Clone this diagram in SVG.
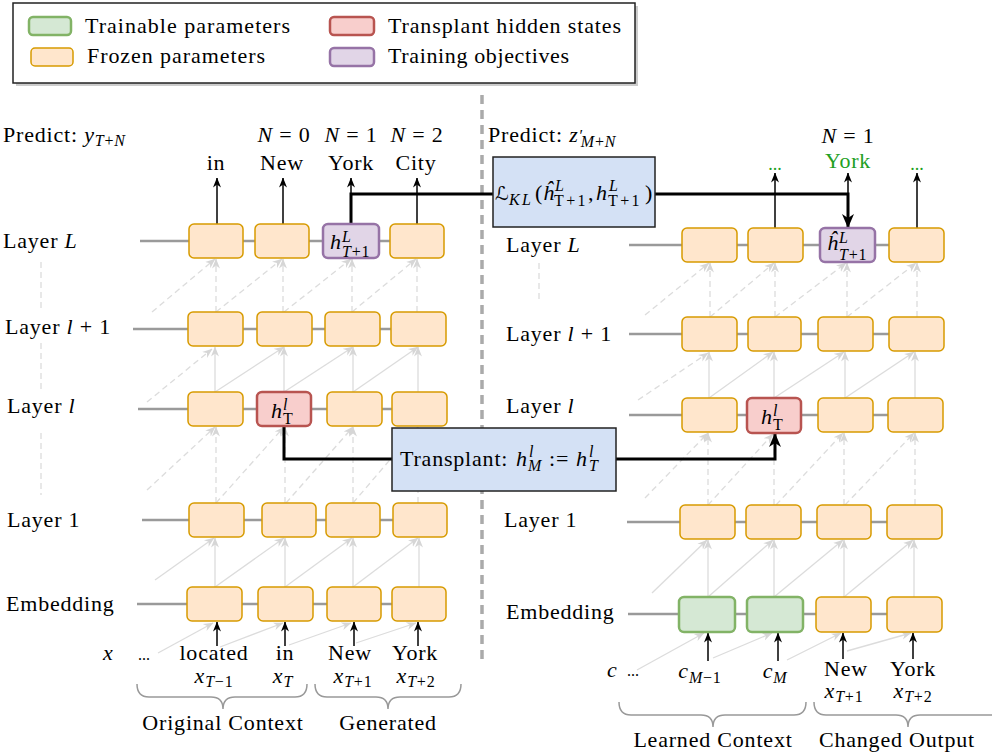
<svg xmlns="http://www.w3.org/2000/svg" width="992" height="754" viewBox="0 0 992 754">
<defs>
<style>
.t{font-family:"Liberation Serif","DejaVu Serif",serif;font-size:22px;letter-spacing:.8px;fill:#000}
.lg{font-family:"Liberation Serif","DejaVu Serif",serif;font-size:22px;fill:#000}
.i{font-style:italic}
.s{font-size:16px}
.w{letter-spacing:2.4px}
.g{fill:#22a022}
.box{fill:#ffe6cc;stroke:#d79b00;stroke-width:1.5}
.grn{fill:#d5e8d4;stroke:#82b366;stroke-width:2.5}
.red{fill:#f8cecc;stroke:#b85450;stroke-width:2.5}
.pur{fill:#e1d5e7;stroke:#9673a6;stroke-width:2.5}
.blue{fill:#d4e1f5;stroke:#222;stroke-width:1.5}
.row{stroke:#9a9a9a;stroke-width:2.5;fill:none}
.att{stroke:#dcdcdc;stroke-width:1.3;fill:none;marker-end:url(#al)}
.attd{stroke:#dcdcdc;stroke-width:1.3;fill:none;stroke-dasharray:6 4;marker-end:url(#al)}
.vd{stroke:#dcdcdc;stroke-width:1.3;fill:none;stroke-dasharray:6 4}
.arr{stroke:#000;stroke-width:1.5;fill:none;marker-end:url(#ab)}
.thk{stroke:#000;stroke-width:3;fill:none}
.brace{stroke:#999;stroke-width:1.5;fill:none}
</style>
<marker id="ab" viewBox="0 0 10 10" markerWidth="10" markerHeight="10" refX="9.5" refY="5" orient="auto" markerUnits="userSpaceOnUse"><path d="M0,1 L10,5 L0,9 L3,5 z" fill="#000"/></marker>
<marker id="abig" viewBox="0 0 14 14" markerWidth="14" markerHeight="14" refX="13" refY="7" orient="auto" markerUnits="userSpaceOnUse"><path d="M0,1 L14,7 L0,13 L4,7 z" fill="#000"/></marker>
<marker id="al" viewBox="0 0 10 10" markerWidth="10" markerHeight="10" refX="9.5" refY="5" orient="auto" markerUnits="userSpaceOnUse"><path d="M0,1 L10,5 L0,9 L3,5 z" fill="#d6d6d6"/></marker>
</defs>
<rect width="992" height="754" fill="#fff"/>

<g id="legend">
<rect x="16" y="6" width="622" height="80" fill="#9a9a9a" opacity="0.5"/>
<rect x="13" y="3" width="622" height="80" fill="#fff" stroke="#222" stroke-width="1.5"/>
<rect x="29" y="17" width="42" height="18" rx="4" class="grn"/>
<text class="lg" x="85" y="33" textLength="205" lengthAdjust="spacing">Trainable parameters</text>
<rect x="31" y="48" width="42" height="18" rx="4" class="box"/>
<text class="lg" x="87" y="63" textLength="178" lengthAdjust="spacing">Frozen parameters</text>
<rect x="330" y="17" width="44" height="18" rx="4" class="red"/>
<text class="lg" x="388" y="33" textLength="233" lengthAdjust="spacing">Transplant hidden states</text>
<rect x="330" y="48" width="44" height="18" rx="4" class="pur"/>
<text class="lg" x="388" y="63" textLength="181" lengthAdjust="spacing">Training objectives</text>
</g>

<g id="separator">
<line x1="482" y1="95" x2="482" y2="662" stroke="#aaa" stroke-width="3.5" stroke-dasharray="9 6"/>
</g>

<g id="connectors">
<line class="row" x1="140" y1="241" x2="444" y2="241"/>
<line class="row" x1="133" y1="329" x2="446" y2="329"/>
<line class="row" x1="138" y1="409" x2="447" y2="409"/>
<line class="row" x1="142" y1="520" x2="447" y2="520"/>
<line class="row" x1="137" y1="604" x2="446" y2="604"/>
<line class="row" x1="629" y1="245" x2="944" y2="245"/>
<line class="row" x1="629" y1="334" x2="944" y2="334"/>
<line class="row" x1="629" y1="415" x2="943" y2="415"/>
<line class="row" x1="627" y1="522" x2="942" y2="522"/>
<line class="row" x1="628" y1="614" x2="942" y2="614"/>

<line class="vd" x1="41" y1="262" x2="41" y2="310"/>
<line class="vd" x1="41" y1="343" x2="41" y2="390"/>
<line class="vd" x1="41" y1="433" x2="41" y2="495"/>
<line class="vd" x1="539" y1="263" x2="539" y2="302"/>

<line class="att" x1="158" y1="653" x2="213" y2="623"/>
<line class="att" x1="220" y1="647" x2="283" y2="623"/>
<line class="att" x1="289" y1="645" x2="351" y2="623"/>
<line class="att" x1="356" y1="643" x2="416" y2="623"/>
<line class="att" x1="215" y1="587" x2="215" y2="538"/>
<line class="att" x1="285" y1="587" x2="285" y2="538"/>
<line class="att" x1="353" y1="587" x2="353" y2="538"/>
<line class="att" x1="419" y1="587" x2="419" y2="538"/>
<line class="att" x1="155" y1="580" x2="214" y2="538"/>
<line class="att" x1="215" y1="587" x2="284" y2="538"/>
<line class="att" x1="285" y1="587" x2="352" y2="538"/>
<line class="att" x1="353" y1="587" x2="418" y2="538"/>
<line class="attd" x1="216" y1="503" x2="216" y2="427"/>
<line class="attd" x1="285" y1="503" x2="285" y2="427"/>
<line class="attd" x1="353" y1="503" x2="353" y2="427"/>
<line class="attd" x1="418" y1="503" x2="418" y2="427"/>
<line class="attd" x1="147" y1="490" x2="215" y2="427"/>
<line class="attd" x1="216" y1="503" x2="284" y2="427"/>
<line class="attd" x1="286" y1="503" x2="353" y2="427"/>
<line class="attd" x1="353" y1="503" x2="418" y2="427"/>
<line class="att" x1="215" y1="392" x2="215" y2="347"/>
<line class="att" x1="284" y1="392" x2="284" y2="347"/>
<line class="att" x1="353" y1="392" x2="353" y2="347"/>
<line class="att" x1="418" y1="392" x2="418" y2="347"/>
<line class="attd" x1="147" y1="402" x2="212" y2="349"/>
<line class="att" x1="215" y1="392" x2="284" y2="347"/>
<line class="att" x1="284" y1="392" x2="353" y2="347"/>
<line class="att" x1="353" y1="392" x2="418" y2="347"/>
<line class="attd" x1="216" y1="312" x2="216" y2="259"/>
<line class="attd" x1="283" y1="312" x2="283" y2="259"/>
<line class="attd" x1="352" y1="312" x2="352" y2="259"/>
<line class="attd" x1="417" y1="312" x2="417" y2="259"/>
<line class="attd" x1="152" y1="312" x2="215" y2="259"/>
<line class="attd" x1="216" y1="312" x2="282" y2="259"/>
<line class="attd" x1="284" y1="312" x2="351" y2="259"/>
<line class="attd" x1="352" y1="312" x2="416" y2="259"/>

<line class="att" x1="637" y1="670" x2="704" y2="633"/>
<line class="att" x1="713" y1="658" x2="772" y2="633"/>
<line class="att" x1="787" y1="660" x2="841" y2="633"/>
<line class="att" x1="847" y1="651" x2="911" y2="633"/>
<line class="att" x1="708" y1="597" x2="708" y2="540"/>
<line class="att" x1="774" y1="597" x2="774" y2="540"/>
<line class="att" x1="844" y1="597" x2="844" y2="540"/>
<line class="att" x1="914" y1="597" x2="914" y2="540"/>
<line class="att" x1="652" y1="593" x2="707" y2="540"/>
<line class="att" x1="708" y1="597" x2="773" y2="540"/>
<line class="att" x1="774" y1="597" x2="843" y2="540"/>
<line class="att" x1="844" y1="597" x2="913" y2="540"/>
<line class="attd" x1="708" y1="505" x2="708" y2="433"/>
<line class="attd" x1="774" y1="505" x2="774" y2="434"/>
<line class="attd" x1="844" y1="505" x2="844" y2="433"/>
<line class="attd" x1="915" y1="505" x2="915" y2="433"/>
<line class="attd" x1="645" y1="498" x2="708" y2="433"/>
<line class="attd" x1="708" y1="505" x2="773" y2="434"/>
<line class="attd" x1="776" y1="505" x2="843" y2="433"/>
<line class="attd" x1="845" y1="505" x2="914" y2="433"/>
<line class="att" x1="709" y1="398" x2="709" y2="352"/>
<line class="att" x1="774" y1="398" x2="774" y2="352"/>
<line class="att" x1="845" y1="398" x2="845" y2="352"/>
<line class="att" x1="915" y1="398" x2="915" y2="352"/>
<line class="attd" x1="638" y1="400" x2="708" y2="353"/>
<line class="att" x1="709" y1="398" x2="773" y2="352"/>
<line class="att" x1="774" y1="398" x2="844" y2="352"/>
<line class="att" x1="845" y1="398" x2="914" y2="352"/>
<line class="attd" x1="710" y1="317" x2="710" y2="263"/>
<line class="attd" x1="775" y1="317" x2="775" y2="263"/>
<line class="attd" x1="847" y1="317" x2="847" y2="263"/>
<line class="attd" x1="917" y1="317" x2="917" y2="263"/>
<line class="attd" x1="645" y1="315" x2="709" y2="263"/>
<line class="attd" x1="710" y1="317" x2="774" y2="263"/>
<line class="attd" x1="775" y1="317" x2="846" y2="263"/>
<line class="attd" x1="847" y1="317" x2="916" y2="263"/>

<line class="arr" x1="217" y1="224" x2="217" y2="178"/>
<line class="arr" x1="283" y1="224" x2="283" y2="178"/>
<line class="arr" x1="351" y1="224" x2="351" y2="178"/>
<line class="arr" x1="417" y1="224" x2="417" y2="178"/>
<line class="arr" x1="775" y1="228" x2="775" y2="173"/>
<line class="arr" x1="848" y1="194" x2="848" y2="173"/>
<line class="arr" x1="917" y1="228" x2="917" y2="173"/>
<line class="arr" x1="217" y1="646" x2="217" y2="622"/>
<line class="arr" x1="285" y1="646" x2="285" y2="622"/>
<line class="arr" x1="354" y1="646" x2="354" y2="622"/>
<line class="arr" x1="418" y1="646" x2="418" y2="622"/>
<line class="arr" x1="708" y1="661" x2="708" y2="633"/>
<line class="arr" x1="778" y1="661" x2="778" y2="633"/>
<line class="arr" x1="843" y1="659" x2="843" y2="633"/>
<line class="arr" x1="913" y1="659" x2="913" y2="633"/>

<path class="thk" d="M351,224 V194 H493"/>
<path class="thk" d="M655,194 H848 V227" marker-end="url(#abig)"/>
<path class="thk" d="M284,426 V459 H392"/>
<path class="thk" d="M616,459 H775 V434" marker-end="url(#abig)"/>

<path class="brace" d="M137,684 Q137,697 149,697 H211 Q223,697 223,709 Q223,697 235,697 H295 Q307,697 307,684"/>
<path class="brace" d="M315,684 Q315,697 327,697 H376 Q388,697 388,709 Q388,697 400,697 H449 Q461,697 461,684"/>
<path class="brace" d="M619,702 Q619,715 631,715 H701 Q713,715 713,727 Q713,715 725,715 H794 Q806,715 806,702"/>
<path class="brace" d="M814,702 Q814,715 826,715 H896 Q908,715 908,727 Q908,715 920,715 H990 Q1002,715 1002,702"/>
</g>

<g id="L-layerL">
<rect class="box" x="189" y="224" width="54" height="34" rx="5"/>
<rect class="box" x="255" y="224" width="54" height="34" rx="5"/>
<rect class="pur" x="323" y="224" width="56" height="34" rx="5"/>
<rect class="box" x="390" y="224" width="54" height="34" rx="5"/>
<text class="t"><tspan class="i" x="330" y="249">h</tspan><tspan class="s i" x="342" y="242">L</tspan><tspan class="s i" x="342" y="257">T</tspan><tspan class="s">+1</tspan></text>
</g>
<g id="L-layerl1">
<rect class="box" x="188" y="312" width="55" height="34" rx="5"/>
<rect class="box" x="257" y="312" width="55" height="34" rx="5"/>
<rect class="box" x="325" y="312" width="55" height="34" rx="5"/>
<rect class="box" x="391" y="312" width="55" height="34" rx="5"/>
</g>
<g id="L-layerl">
<rect class="box" x="188" y="392" width="55" height="34" rx="5"/>
<rect class="red" x="257" y="392" width="54" height="34" rx="5"/>
<rect class="box" x="327" y="392" width="55" height="34" rx="5"/>
<rect class="box" x="392" y="392" width="55" height="34" rx="5"/>
<text class="t"><tspan class="i" x="271" y="418">h</tspan><tspan class="s i" x="283" y="410">l</tspan><tspan class="s" x="283" y="424">T</tspan></text>
</g>
<g id="L-layer1">
<rect class="box" x="189" y="503" width="55" height="34" rx="5"/>
<rect class="box" x="262" y="503" width="54" height="34" rx="5"/>
<rect class="box" x="326" y="503" width="54" height="34" rx="5"/>
<rect class="box" x="393" y="503" width="54" height="34" rx="5"/>
</g>
<g id="L-emb">
<rect class="box" x="187" y="587" width="55" height="34" rx="5"/>
<rect class="box" x="258" y="587" width="55" height="34" rx="5"/>
<rect class="box" x="327" y="587" width="54" height="34" rx="5"/>
<rect class="box" x="392" y="587" width="54" height="34" rx="5"/>
</g>

<g id="R-layerL">
<rect class="box" x="682" y="228" width="55" height="34" rx="5"/>
<rect class="box" x="748" y="228" width="55" height="34" rx="5"/>
<rect class="pur" x="820" y="228" width="55" height="34" rx="5"/>
<rect class="box" x="889" y="228" width="55" height="34" rx="5"/>
<text class="t"><tspan class="i" x="827" y="250">ĥ</tspan><tspan class="s i" x="839" y="243">L</tspan><tspan class="s i" x="839" y="260">T</tspan><tspan class="s">+1</tspan></text>
</g>
<g id="R-layerl1">
<rect class="box" x="682" y="317" width="55" height="34" rx="5"/>
<rect class="box" x="748" y="317" width="53" height="34" rx="5"/>
<rect class="box" x="818" y="317" width="55" height="34" rx="5"/>
<rect class="box" x="889" y="317" width="55" height="34" rx="5"/>
</g>
<g id="R-layerl">
<rect class="box" x="682" y="398" width="55" height="34" rx="5"/>
<rect class="red" x="747" y="398" width="54" height="35" rx="5"/>
<rect class="box" x="818" y="398" width="55" height="34" rx="5"/>
<rect class="box" x="888" y="398" width="55" height="34" rx="5"/>
<text class="t"><tspan class="i" x="761" y="424">h</tspan><tspan class="s i" x="773" y="416">l</tspan><tspan class="s" x="773" y="430">T</tspan></text>
</g>
<g id="R-layer1">
<rect class="box" x="680" y="505" width="55" height="34" rx="5"/>
<rect class="box" x="746" y="505" width="55" height="34" rx="5"/>
<rect class="box" x="817" y="505" width="54" height="34" rx="5"/>
<rect class="box" x="887" y="505" width="55" height="34" rx="5"/>
</g>
<g id="R-emb">
<rect class="grn" x="679" y="597" width="56" height="35" rx="5"/>
<rect class="grn" x="747" y="597" width="56" height="35" rx="5"/>
<rect class="box" x="816" y="597" width="55" height="35" rx="5"/>
<rect class="box" x="887" y="597" width="55" height="35" rx="5"/>
</g>

<g id="kl-box">
<rect class="blue" x="493" y="157" width="162" height="70"/>
<text class="t"><tspan x="495" y="200" style="font-family:'DejaVu Serif','DejaVu Sans',serif;font-size:19px">ℒ</tspan><tspan class="s i w" x="509" y="205">KL</tspan><tspan x="535" y="200">(</tspan><tspan class="i" x="543" y="200">ĥ</tspan><tspan class="s i" x="555" y="191">L</tspan><tspan class="s w" x="554" y="206">T+1</tspan><tspan x="588" y="200">,</tspan><tspan class="i" x="596" y="200">h</tspan><tspan class="s i" x="609" y="191">L</tspan><tspan class="s w" x="608" y="206">T+1</tspan><tspan x="645" y="200">)</tspan></text>
</g>
<g id="transplant-box">
<rect class="blue" x="392" y="428" width="224" height="63"/>
<text class="t"><tspan x="400" y="466">Transplant:</tspan><tspan class="i" x="516" y="466">h</tspan><tspan class="s i" x="529" y="457">l</tspan><tspan class="s i" x="528" y="471">M</tspan><tspan x="549" y="466">:=</tspan><tspan class="i" x="576" y="466">h</tspan><tspan class="s i" x="589" y="457">l</tspan><tspan class="s i" x="589" y="471">T</tspan></text>
</g>

<g id="labels">
<text class="t" x="3" y="142">Predict: <tspan class="i">y</tspan><tspan class="s i" dy="4">T</tspan><tspan class="s">+</tspan><tspan class="s i">N</tspan></text>
<text class="t" x="284" y="142" text-anchor="middle"><tspan class="i">N</tspan> = 0</text>
<text class="t" x="351" y="142" text-anchor="middle"><tspan class="i">N</tspan> = 1</text>
<text class="t" x="417" y="142" text-anchor="middle"><tspan class="i">N</tspan> = 2</text>
<text class="t" x="216" y="170" text-anchor="middle">in</text>
<text class="t" x="282" y="170" text-anchor="middle">New</text>
<text class="t" x="351" y="170" text-anchor="middle">York</text>
<text class="t" x="416" y="170" text-anchor="middle">City</text>

<text class="t" x="3" y="248">Layer <tspan class="i">L</tspan></text>
<text class="t" x="5" y="334">Layer <tspan class="i">l</tspan> + 1</text>
<text class="t" x="7" y="413">Layer <tspan class="i">l</tspan></text>
<text class="t" x="7" y="527">Layer 1</text>
<text class="t" x="6" y="611">Embedding</text>

<text class="t i" x="103" y="660">x</text>
<text class="t" x="138" y="660" style="font-size:16px;letter-spacing:0">...</text>
<text class="t" x="214" y="660" text-anchor="middle">located</text>
<text class="t" x="285" y="660" text-anchor="middle">in</text>
<text class="t" x="350" y="660" text-anchor="middle">New</text>
<text class="t" x="415" y="660" text-anchor="middle">York</text>
<text class="t" x="214" y="683" text-anchor="middle"><tspan class="i">x</tspan><tspan class="s" dy="4"><tspan class="i">T</tspan>−1</tspan></text>
<text class="t" x="283" y="683" text-anchor="middle"><tspan class="i">x</tspan><tspan class="s i" dy="4">T</tspan></text>
<text class="t" x="353" y="683" text-anchor="middle"><tspan class="i">x</tspan><tspan class="s" dy="4"><tspan class="i">T</tspan>+1</tspan></text>
<text class="t" x="416" y="683" text-anchor="middle"><tspan class="i">x</tspan><tspan class="s" dy="4"><tspan class="i">T</tspan>+2</tspan></text>
<text class="t" x="223" y="730" text-anchor="middle">Original Context</text>
<text class="t" x="388" y="730" text-anchor="middle">Generated</text>

<text class="t" x="488" y="142">Predict: <tspan class="i">z</tspan><tspan class="s" dx="1" dy="-1">′</tspan><tspan class="s i" dx="-3" dy="6">M</tspan><tspan class="s">+</tspan><tspan class="s i">N</tspan></text>
<text class="t" x="848" y="143" text-anchor="middle"><tspan class="i">N</tspan> = 1</text>
<text class="t g" x="848" y="168" text-anchor="middle">York</text>
<text class="t g" x="775" y="170" text-anchor="middle" style="font-size:18px;letter-spacing:0">...</text>
<text class="t g" x="917" y="170" text-anchor="middle" style="font-size:18px;letter-spacing:0">...</text>

<text class="t" x="506" y="252">Layer <tspan class="i">L</tspan></text>
<text class="t" x="506" y="341">Layer <tspan class="i">l</tspan> + 1</text>
<text class="t" x="506" y="413">Layer <tspan class="i">l</tspan></text>
<text class="t" x="504" y="527">Layer 1</text>
<text class="t" x="506" y="619">Embedding</text>

<text class="t i" x="607" y="677">c</text>
<text class="t" x="627" y="676" style="font-size:16px;letter-spacing:0">...</text>
<text class="t" x="700" y="678" text-anchor="middle"><tspan class="i">c</tspan><tspan class="s" dy="5"><tspan class="i">M</tspan>−1</tspan></text>
<text class="t" x="775" y="678" text-anchor="middle"><tspan class="i">c</tspan><tspan class="s i" dy="5">M</tspan></text>
<text class="t" x="846" y="676" text-anchor="middle">New</text>
<text class="t" x="913" y="676" text-anchor="middle">York</text>
<text class="t" x="844" y="698" text-anchor="middle"><tspan class="i">x</tspan><tspan class="s" dy="4"><tspan class="i">T</tspan>+1</tspan></text>
<text class="t" x="913" y="698" text-anchor="middle"><tspan class="i">x</tspan><tspan class="s" dy="4"><tspan class="i">T</tspan>+2</tspan></text>
<text class="t" x="713" y="747" text-anchor="middle">Learned Context</text>
<text class="t" x="897" y="747" text-anchor="middle">Changed Output</text>
</g>
</svg>
